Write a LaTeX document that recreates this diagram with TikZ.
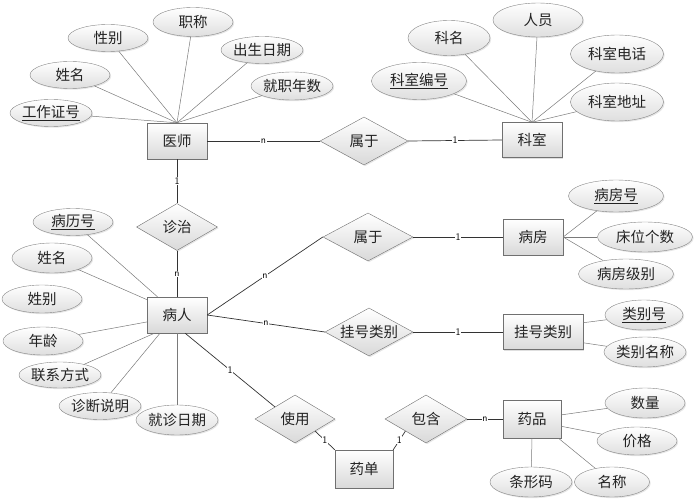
\documentclass[tikz,border=0pt]{standalone}
\usepackage{fontspec}
\newfontfamily\cjk{Noto Sans CJK SC}
\usepackage{tikz}
\usetikzlibrary{shapes.geometric,shadows}
\definecolor{cLine}{HTML}{333333}
\definecolor{cAttr}{HTML}{7A7A7A}
\definecolor{cBord}{HTML}{707070}
\definecolor{cFill}{HTML}{D9D9D9}
\definecolor{cText}{HTML}{222222}

\begin{document}
\begin{tikzpicture}[x=1pt,y=-1pt,
  ent/.style={
    rectangle, draw=cBord, top color=white, bottom color=cFill,
    minimum width=60pt, minimum height=36pt, inner sep=0,
    font=\cjk\fontsize{14.5}{16}\selectfont, text=cText,
    drop shadow={shadow xshift=1.2pt,shadow yshift=-1.2pt,opacity=.25}
  },
  attr/.style={
    ellipse, draw=cBord!85, top color=white, bottom color=cFill!85,
    minimum width=80pt, minimum height=28pt, inner sep=0,
    font=\cjk\fontsize{14.5}{16}\selectfont, text=cText,
    drop shadow={shadow xshift=1.2pt,shadow yshift=-1.2pt,opacity=.2}
  },
  rel/.style={
    diamond, aspect=2, draw=cBord, top color=white, bottom color=cFill,
    minimum width=88pt, minimum height=48pt, inner sep=0,
    font=\cjk\fontsize{14.5}{16}\selectfont, text=cText,
    drop shadow={shadow xshift=1.2pt,shadow yshift=-1.2pt,opacity=.2}
  },
  card/.style={fill=white, inner sep=0.6pt, font=\sffamily\fontsize{10}{12}\selectfont},
  rl/.style={draw=cLine, line width=0.7pt},
  al/.style={draw=cAttr, line width=0.5pt},
]
\useasboundingbox (0,0) rectangle (697,500);
% Doctor
\node[ent] (ys) at (177,141) {医师};
\node[attr,minimum width=82pt,minimum height=27pt] (ysid) at (51,113) {\underline{工作证号}};
\node[attr,minimum height=27pt] (ysxm) at (70,75) {姓名};
\node[attr,minimum height=27pt] (ysxb) at (108,38) {性别};
\node[attr,minimum height=29pt] (yszc) at (193,22) {职称};
\node[attr,minimum height=27pt] (yscs) at (262,50) {出生日期};
\node[attr,minimum width=81pt] (ysjz) at (292,86) {就职年数};
% Department
\node[ent,minimum height=35pt] (ks) at (532,140) {科室};
\node[attr,minimum width=95pt,minimum height=37pt] (ksbh) at (419,81) {\underline{科室编号}};
\node[attr,minimum width=82pt,minimum height=35pt] (ksm) at (449,38) {科名};
\node[attr,minimum width=90pt,minimum height=34pt] (ksry) at (538,20) {人员};
\node[attr,minimum width=93pt,minimum height=38pt] (ksdh) at (617,54) {科室电话};
\node[attr,minimum width=93pt,minimum height=38pt] (ksdz) at (617,102) {科室地址};
% Relations (top)
\node[rel] (sy1) at (364,141) {属于};
\node[rel,minimum width=81pt,minimum height=47pt] (zz) at (177,227) {诊治};
% Patient
\node[ent] (br) at (177,315) {病人};
\node[attr,minimum height=27pt] (brbl) at (73,222) {\underline{病历号}};
\node[attr,minimum height=30pt] (brxm) at (52,258) {姓名};
\node[attr] (brxb) at (42,299) {姓别};
\node[attr] (brnl) at (43,341) {年龄};
\node[attr,minimum height=26pt] (brlx) at (60,375) {联系方式};
\node[attr,minimum height=27pt] (brzd) at (100,406) {诊断说明};
\node[attr,minimum width=81pt,minimum height=30pt] (brjz) at (177,420) {就诊日期};
% Ward
\node[rel,minimum width=90pt] (sy2) at (368,237) {属于};
\node[ent] (bf) at (533,237) {病房};
\node[attr,minimum width=95pt,minimum height=32pt] (bfh) at (616,196) {\underline{病房号}};
\node[attr,minimum width=95pt,minimum height=30pt] (bfcw) at (645,237) {床位个数};
\node[attr,minimum width=95pt,minimum height=30pt] (bfjb) at (626,274) {病房级别};
% Registration type
\node[rel] (ghlb) at (369,332) {挂号类别};
\node[ent,minimum width=80pt,minimum height=35pt] (ghb) at (543,332) {挂号类别};
\node[attr,minimum width=78pt,minimum height=30pt] (lbh) at (644,315) {\underline{类别号}};
\node[attr,minimum height=30pt] (lbmc) at (645,352) {类别名称};
% Medicine
\node[rel,minimum width=80pt] (syy) at (295,419) {使用};
\node[rel,minimum width=82pt] (bh) at (426,419) {包含};
\node[ent,minimum width=58pt,minimum height=38pt] (yd) at (364,469) {药单};
\node[ent,minimum width=58pt,minimum height=38pt] (yp) at (532,419) {药品};
\node[attr,minimum height=30pt] (ypsl) at (645,403) {数量};
\node[attr] (ypjg) at (637,441) {价格};
\node[attr,minimum width=82pt,minimum height=30pt] (yptx) at (531,482) {条形码};
\node[attr,minimum width=75pt,minimum height=30pt] (ypmc) at (612,482) {名称};
% Relationship lines
\draw[rl] (ys.east) -- node[card]{n} (sy1.west);
\draw[rl] (sy1.east) -- node[card]{1} (ks.west);
\draw[rl] (ys.south) -- node[card]{1} (zz.north);
\draw[rl] (zz.south) -- node[card]{n} (br.north);
\draw[rl] (br.east) -- node[card]{n} (sy2.west);
\draw[rl] (sy2.east) -- node[card]{1} (bf.west);
\draw[rl] (br.east) -- node[card]{n} (ghlb.west);
\draw[rl] (ghlb.east) -- node[card]{1} (ghb.west);
\draw[rl] (br.294) -- node[card]{1} (syy.north west);
\draw[rl] (syy.south east) -- node[card]{1} (yd.north west);
\draw[rl] (bh.south west) -- node[card]{1} (yd.north east);
\draw[rl] (bh.east) -- node[card]{n} (yp.west);
% Attribute lines
\draw[al] (ys.north) -- (ysid);
\draw[al] (ys.north) -- (ysxm);
\draw[al] (ys.north) -- (ysxb);
\draw[al] (ys.north) -- (yszc);
\draw[al] (ys.north) -- (yscs);
\draw[al] (ys.north) -- (ysjz);
\draw[al] (ks.north) -- (ksbh);
\draw[al] (ks.north) -- (ksm);
\draw[al] (ks.north) -- (ksry);
\draw[al] (ks.north) -- (ksdh);
\draw[al] (ks.north) -- (ksdz);
\draw[al] (br.137) -- (brbl);
\draw[al] (br.153) -- (brxm);
\draw[al] (br.193) -- (brnl);
\draw[al] (br.219) -- (brlx);
\draw[al] (br.227) -- (brzd);
\draw[al] (br.south) -- (brjz);
\draw[al] (bf.east) -- (bfh);
\draw[al] (bf.east) -- (bfcw);
\draw[al] (bf.east) -- (bfjb);
\draw[al] (ghb.13) -- (lbh);
\draw[al] (ghb.-15) -- (lbmc);
\draw[al] (yp.8) -- (ypsl);
\draw[al] (yp.-14) -- (ypjg);
\draw[al] (yp.south) -- (yptx);
\draw[al] (yp.-36) -- (ypmc);
\end{tikzpicture}
\end{document}
